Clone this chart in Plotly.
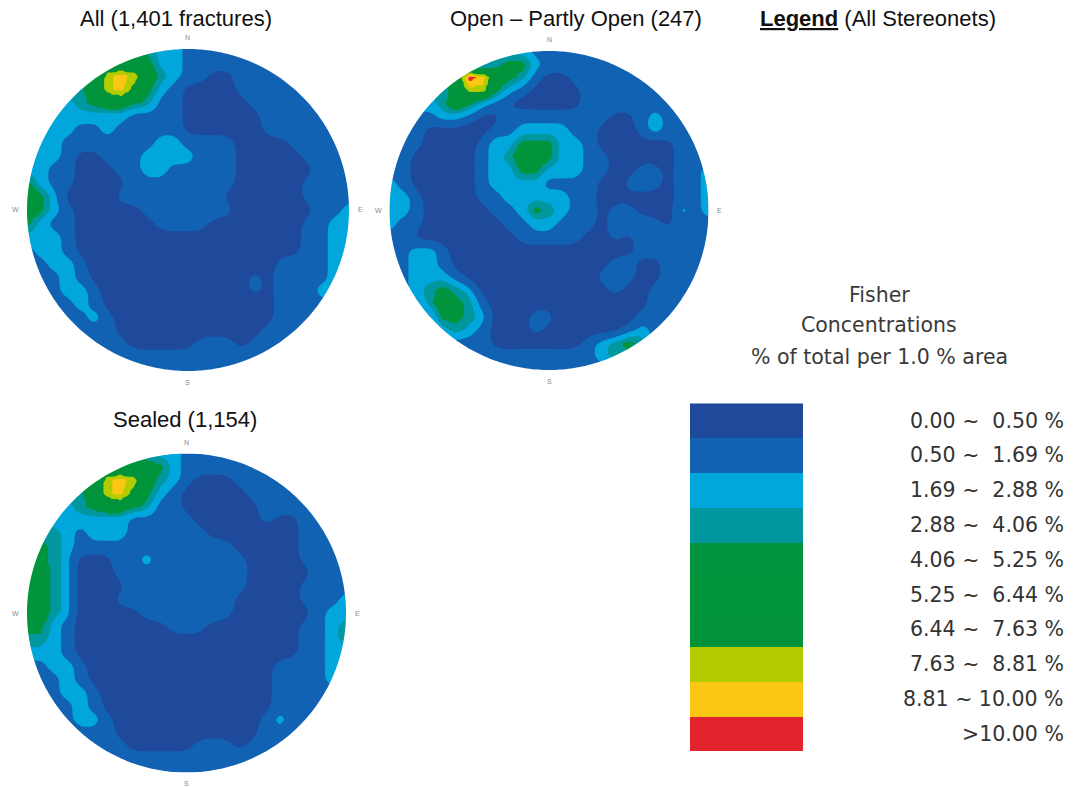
import numpy as np
import plotly.graph_objects as go

W, H = 1081, 787

# Fisher concentration classes (lowest to highest)
class_labels = [
    "0.00 ~\u00a0 0.50 %", "0.50 ~\u00a0 1.69 %", "1.69 ~\u00a0 2.88 %", "2.88 ~\u00a0 4.06 %",
    "4.06 ~\u00a0 5.25 %", "5.25 ~\u00a0 6.44 %", "6.44 ~\u00a0 7.63 %", "7.63 ~\u00a0 8.81 %",
    "8.81 ~ 10.00 %", ">10.00 %",
]
class_colors = [
    "#1f4a9b", "#1262b3", "#00a6dc", "#00979e", "#00953d",
    "#00943b", "#00933a", "#b3cc00", "#fcc614", "#e3242f",
]

# Gridded concentration class per net (rows run north -> south, columns west -> east)
all_grid = [
    "1111111333221111111111111",
    "3333334444221111111111111",
    "3333347875321100111111111",
    "3333357864210000111111111",
    "2222345543110000011111111",
    "2222222211110000001111111",
    "2222112111110000001111111",
    "2221111111221111000011111",
    "2221001112222111000001111",
    "2211000112211111000000111",
    "4211000011111111000001111",
    "5420000111111110000001111",
    "5421000001111111000000112",
    "4211000000111100000001122",
    "2221000000000000000001122",
    "1221000000000000000001122",
    "1122100000000000000111123",
    "1112100000000000010111123",
    "1112210000000000010111222",
    "1111210000000000000111111",
    "1111121000000000000111111",
    "1111111000000000001111111",
    "1111111100000111011111111",
    "1111111111111111111111111",
    "1111111111111111111111111",
]
open_grid = [
    "1111111222211111111111111",
    "2222222234421111111111111",
    "2222259854310011111111111",
    "2222347742100001111111111",
    "2222354210000001111111111",
    "1111221001111111100121111",
    "1110000011222211000121111",
    "1110000122444221000000111",
    "1100000123554221100000111",
    "1100000122442221100110112",
    "2100000122221111001110112",
    "2210000112222211000000112",
    "2210000011243211011000212",
    "2110000001122111011110111",
    "1100000000111110010111111",
    "1122100000000000000110111",
    "1122100000000000011001111",
    "1122210000000000111001111",
    "1123432000000000010011111",
    "1113543100000000000011111",
    "1111443200011000000111111",
    "1111232100010000001211111",
    "1111111100000001234311111",
    "1111111111111111233111111",
    "1111111111111111111111111",
]
sealed_grid = [
    "1111111333221111111111111",
    "3333334444421111111111111",
    "3333347875321000111111111",
    "3333357864210000011111111",
    "2222345543110000001111111",
    "2222222211111000001001111",
    "3332122211111100000001111",
    "4432111111111111000001111",
    "4432000112111111100001111",
    "5532000111111111100000111",
    "5532000011111111100001111",
    "5532000111111111000001112",
    "5532000001111111000000122",
    "4421000000011100000001123",
    "3321000000000000000001123",
    "2221000000000000000001122",
    "1122100000000000000111122",
    "1112100000000000000111122",
    "1112210000000000000111111",
    "1111210000000000000111111",
    "1111221000000000001211111",
    "1111111000000000001111111",
    "1111111100000111011111111",
    "1111111111111111111111111",
    "1111111111111111111111111",
]

net_titles = ["All (1,401 fractures)", "Open \u2013 Partly Open (247)", "Sealed (1,154)"]
net_grids = [all_grid, open_grid, sealed_grid]
# pixel centre / radius of each stereonet, and title centre
net_boxes = [(188, 210, 161), (549, 210.5, 159.5), (186.5, 613, 159.5)]
title_pos = [(176, 19), (576, 19), (185, 419)]
compass = [("N", 0, 1.07), ("S", 0, -1.07), ("W", -1.07, 0), ("E", 1.07, 0)]

colorscale = [[k / 9, c] for k, c in enumerate(class_colors)]
R = 1.08
UPSAMPLE = 6
# rounding applied to each class boundary (in grid cells), low classes get the most
LEVEL_SIGMA = [0.5, 0.3, 0.25, 0.1, 0.1, 0.1, 0.1, 0.1, 0.08]


def refine(z, f):
    """Bilinear refinement of a square grid by an integer factor."""
    n = z.shape[0]
    src = np.arange(n)
    dst = np.linspace(0, n - 1, (n - 1) * f + 1)
    rows = np.array([np.interp(dst, src, r) for r in z])
    return np.array([np.interp(dst, src, c) for c in rows.T]).T


def soften(z, sigma):
    rad = int(3 * sigma) + 1
    k = np.exp(-0.5 * (np.arange(-rad, rad + 1) / sigma) ** 2)
    k /= k.sum()
    zp = np.pad(z, rad, mode="edge")
    zr = np.apply_along_axis(lambda m: np.convolve(m, k, mode="valid"), 1, zp)
    return np.apply_along_axis(lambda m: np.convolve(m, k, mode="valid"), 0, zr)


def class_surface(grid):
    z = np.array([[int(c) for c in row] for row in grid], dtype=float)[::-1]
    zl = refine(z, UPSAMPLE)
    out = np.zeros_like(zl)
    for i, s in enumerate(LEVEL_SIGMA):
        out += soften((zl >= i + 0.5).astype(float), s * UPSAMPLE)
    return out


fig = go.Figure()
layout = {}
annotations = []
shapes = []

theta = np.linspace(2 * np.pi, 0, 361)
hole = " ".join(
    ("M" if i == 0 else "L") + f" {np.cos(t):.5f} {np.sin(t):.5f}" for i, t in enumerate(theta)
) + " Z"
mask_path = f"M {-R} {-R} L {R} {-R} L {R} {R} L {-R} {R} Z " + hole

for k, (grid, (cx, cy, r), title, (tx, ty)) in enumerate(
        zip(net_grids, net_boxes, net_titles, title_pos), start=1):
    sfx = "" if k == 1 else str(k)
    zf = class_surface(grid)
    coords = np.linspace(-1, 1, zf.shape[0])
    fig.add_trace(go.Contour(
        x=coords, y=coords, z=zf, xaxis="x" + sfx, yaxis="y" + sfx,
        autocontour=False,
        contours=dict(start=0.5, end=8.5, size=1, coloring="fill", showlines=False),
        line=dict(width=0, smoothing=1.3),
        colorscale=colorscale, showscale=False, hoverinfo="skip",
    ))
    half = R * r
    layout["xaxis" + sfx] = dict(domain=[(cx - half) / W, (cx + half) / W], range=[-R, R],
                                 visible=False, fixedrange=True)
    layout["yaxis" + sfx] = dict(domain=[1 - (cy + half) / H, 1 - (cy - half) / H], range=[-R, R],
                                 visible=False, fixedrange=True)
    shapes.append(dict(type="path", path=mask_path, xref="x" + sfx, yref="y" + sfx,
                       fillcolor="white", line=dict(width=0), layer="above"))
    for lab, lx, ly in compass:
        annotations.append(dict(text=lab, x=lx, y=ly, xref="x" + sfx, yref="y" + sfx,
                                xanchor="center", yanchor="middle", showarrow=False,
                                font=dict(size=7, color="#8a8a8a", family="Liberation Sans, Arial")))
    annotations.append(dict(text=title, x=tx / W, y=1 - ty / H, xref="paper", yref="paper",
                            showarrow=False, xanchor="center", yanchor="middle",
                            font=dict(size=22, color="#111111", family="Liberation Sans, Arial")))

# legend colour bar
levels = list(range(len(class_colors)))
fig.add_trace(go.Heatmap(
    x=[0], y=levels, z=[[v] for v in levels], xaxis="x4", yaxis="y4",
    colorscale=colorscale, zmin=0, zmax=9, showscale=False, hoverinfo="skip",
))
bar_left, bar_right, bar_top, bar_bottom = 690, 803, 403.3, 751
layout["xaxis4"] = dict(domain=[bar_left / W, bar_right / W], range=[-0.5, 0.5],
                        visible=False, fixedrange=True)
layout["yaxis4"] = dict(domain=[1 - bar_bottom / H, 1 - bar_top / H], range=[9.5, -0.5],
                        visible=False, fixedrange=True)
for v, lab in zip(levels, class_labels):
    annotations.append(dict(text=lab, x=1066 / W, y=v, xref="paper", yref="y4",
                            xanchor="right", yanchor="middle", showarrow=False,
                            font=dict(size=20.5, color="#333333", family="DejaVu Sans")))

annotations.append(dict(text="<b><u>Legend</u></b> (All Stereonets)", x=878 / W, y=1 - 19 / H,
                        xref="paper", yref="paper", xanchor="center", yanchor="middle",
                        showarrow=False,
                        font=dict(size=22, color="#111111", family="Liberation Sans, Arial")))
for line, ly in [("Fisher", 295), ("Concentrations", 325), ("% of total per 1.0 % area", 357)]:
    annotations.append(dict(text=line, x=879 / W, y=1 - ly / H, xref="paper", yref="paper",
                            xanchor="center", yanchor="middle", showarrow=False,
                            font=dict(size=20.5, color="#3a3a3a", family="DejaVu Sans")))

fig.update_layout(
    width=W, height=H, autosize=False,
    margin=dict(l=0, r=0, t=0, b=0),
    paper_bgcolor="white", plot_bgcolor="white",
    showlegend=False,
    annotations=annotations, shapes=shapes,
    **layout,
)

fig.write_html("out.html", config={"displayModeBar": False})
